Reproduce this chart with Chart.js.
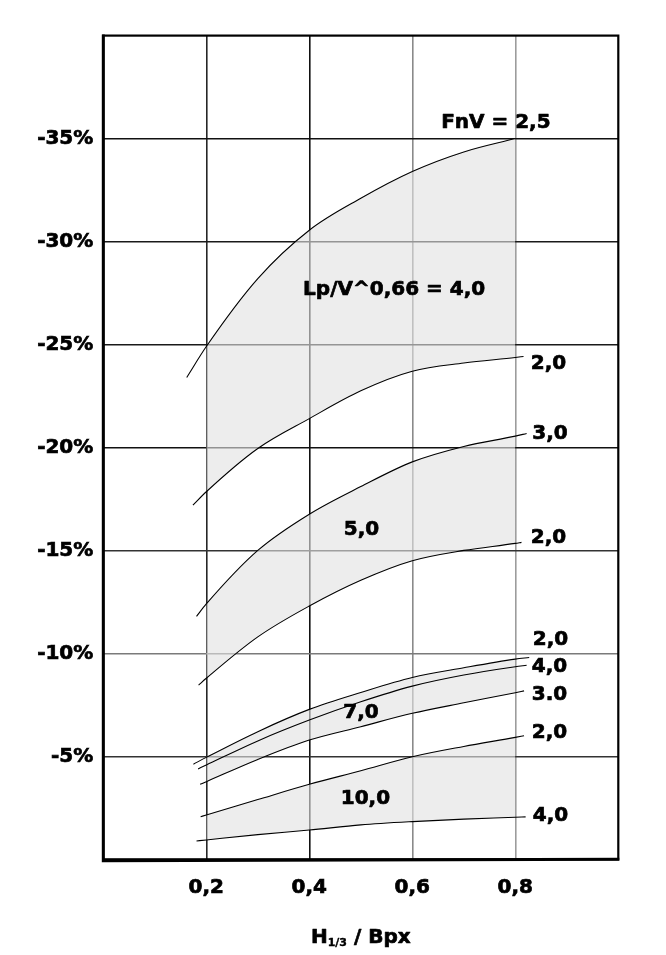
<!DOCTYPE html>
<html>
<head>
<meta charset="utf-8">
<script src="https://cdn.jsdelivr.net/npm/chart.js@4.4.1/dist/chart.umd.min.js"></script>
<style>
html,body{margin:0;padding:0;background:#fff;}
canvas{display:block;}
</style>
</head>
<body>
<canvas id="c" width="666" height="955"></canvas>
<script>
// ---- DATA: [H1/3/Bpx, resistance change %] ----
// Lp/V^0,66 = 4,0 band
const curveA = [[0.162,-23.4],[0.2,-24.9],[0.3,-28.2],[0.4,-30.55],[0.5,-32.1],[0.6,-33.4],[0.7,-34.35],[0.8,-35.0]];
const curveB = [[0.174,-17.2],[0.2,-17.85],[0.3,-19.95],[0.4,-21.4],[0.5,-22.75],[0.6,-23.7],[0.7,-24.1],[0.8,-24.37],[0.816,-24.42]];
// Lp/V^0,66 = 5,0 band
const curveC = [[0.181,-11.8],[0.2,-12.4],[0.3,-15.0],[0.4,-16.76],[0.5,-18.1],[0.6,-19.3],[0.7,-20.05],[0.8,-20.55],[0.822,-20.68]];
const curveD = [[0.185,-8.46],[0.2,-8.79],[0.3,-10.8],[0.4,-12.3],[0.5,-13.55],[0.6,-14.5],[0.7,-15.0],[0.8,-15.34],[0.812,-15.39]];
// Lp/V^0,66 = 7,0 band
const curveE = [[0.175,-4.62],[0.2,-4.95],[0.3,-6.2],[0.4,-7.28],[0.5,-8.1],[0.6,-8.83],[0.7,-9.3],[0.8,-9.72],[0.827,-9.8]];
const curveF = [[0.184,-4.39],[0.2,-4.58],[0.3,-5.75],[0.4,-6.76],[0.5,-7.65],[0.6,-8.41],[0.7,-8.95],[0.8,-9.35],[0.822,-9.42]];
const curveG = [[0.188,-3.64],[0.2,-3.77],[0.3,-4.85],[0.4,-5.79],[0.5,-6.44],[0.6,-7.09],[0.7,-7.6],[0.8,-8.09],[0.817,-8.18]];
// Lp/V^0,66 = 10,0 band
const curveH = [[0.189,-2.07],[0.2,-2.15],[0.3,-2.9],[0.4,-3.64],[0.5,-4.3],[0.6,-4.98],[0.7,-5.48],[0.8,-5.92],[0.817,-6.0]];
const curveI = [[0.181,-0.89],[0.2,-0.94],[0.3,-1.2],[0.4,-1.42],[0.5,-1.67],[0.6,-1.83],[0.7,-1.95],[0.8,-2.04],[0.82,-2.06]];

const xTickValues = [0.2, 0.4, 0.6, 0.8];
const yTickValues = [-35, -30, -25, -20, -15, -10, -5];

const endLabels  = ['2,0', '3,0', '2,0', '2,0', '4,0', '3.0', '2,0', '4,0'];
const bandLabels = ['Lp/V^0,66 = 4,0', '5,0', '7,0', '10,0'];
const headLabel  = 'FnV = 2,5';
const shadeRange = [0.2, 0.8];

// ---- build chart ----
const SHADE = 'rgba(226,226,226,0.62)';
const toXY = pts => pts.map(p => ({x: p[0], y: p[1]}));
const inWindow = pts => toXY(pts.filter(p => p[0] >= shadeRange[0] - 1e-9 && p[0] <= shadeRange[1] + 1e-9));

const bands = [[curveA, curveB], [curveC, curveD], [curveE, curveG], [curveH, curveI]];
const curves = [curveA, curveB, curveC, curveD, curveE, curveF, curveG, curveH, curveI];

const datasets = [];
bands.forEach(([up, low]) => {
  datasets.push({data: inWindow(up), fill: '+1', backgroundColor: SHADE, borderColor: 'rgba(0,0,0,0)', borderWidth: 0, pointRadius: 0, order: 2, cubicInterpolationMode: 'monotone'});
  datasets.push({data: inWindow(low), fill: false, borderColor: 'rgba(0,0,0,0)', borderWidth: 0, pointRadius: 0, order: 2, cubicInterpolationMode: 'monotone'});
});
curves.forEach(c => datasets.push({data: toXY(c), fill: false, borderColor: '#000', borderWidth: 1.1, pointRadius: 0, order: 0, cubicInterpolationMode: 'monotone'}));

// annotations anchored in data coordinates (left edge, text baseline)
const endAnchors = [[0.830,-23.83],[0.833,-20.39],[0.830,-15.37],[0.834,-10.4],[0.832,-9.1],[0.832,-7.73],[0.832,-5.87],[0.834,-1.87]];
const bandAnchors = [[0.388,-27.4],[0.467,-15.74],[0.466,-6.84],[0.461,-2.67]];
const headAnchor = [0.656,-35.5];

const FONT = '"DejaVu Sans", "Liberation Sans", sans-serif';

function boldText(ctx, t, x, y) {
  ctx.strokeText(t, x, y);
  ctx.fillText(t, x, y);
}

const labelPlugin = {
  id: 'curveLabels',
  afterDatasetsDraw(chart) {
    const {ctx, scales: {x, y}} = chart;
    ctx.save();
    ctx.font = 'bold 20px ' + FONT;
    ctx.fillStyle = '#000';
    ctx.strokeStyle = '#000';
    ctx.lineWidth = 0.7;
    ctx.lineJoin = 'round';
    ctx.textAlign = 'left';
    ctx.textBaseline = 'alphabetic';
    const put = (t, a) => boldText(ctx, t, x.getPixelForValue(a[0]), y.getPixelForValue(a[1]));
    endLabels.forEach((t, i) => put(t, endAnchors[i]));
    bandLabels.forEach((t, i) => put(t, bandAnchors[i]));
    put(headLabel, headAnchor);
    ctx.restore();
  }
};

const framePlugin = {
  id: 'frameAndTitle',
  afterDraw(chart) {
    const {ctx, chartArea: a} = chart;
    ctx.save();
    ctx.strokeStyle = '#000';
    ctx.lineWidth = 2.2;
    ctx.strokeRect(a.left, a.top, a.right - a.left, a.bottom - a.top);
    ctx.lineWidth = 3;
    ctx.beginPath();
    ctx.moveTo(a.left, a.top - 1); ctx.lineTo(a.left, a.bottom + 1.5);
    ctx.lineTo(a.right + 1, a.bottom);
    ctx.stroke();
    // x axis title: H1/3 / Bpx
    const big = 'bold 20px ' + FONT, small = 'bold 11px ' + FONT;
    const p1 = 'H', p2 = '1/3', p3 = ' / Bpx';
    ctx.font = big; const w1 = ctx.measureText(p1).width, w3 = ctx.measureText(p3).width;
    ctx.font = small; const w2 = ctx.measureText(p2).width;
    const total = w1 + w2 + w3;
    let cx = (a.left + a.right) / 2 - total / 2;
    const base = 943;
    ctx.fillStyle = '#000';
    ctx.lineWidth = 0.7;
    ctx.lineJoin = 'round';
    ctx.textBaseline = 'alphabetic';
    ctx.textAlign = 'left';
    ctx.font = big; boldText(ctx, p1, cx, base); cx += w1;
    ctx.font = small; ctx.lineWidth = 0.4; boldText(ctx, p2, cx, base + 3); cx += w2;
    ctx.font = big; ctx.lineWidth = 0.7; boldText(ctx, p3, cx, base);
    ctx.restore();
  }
};

const xGridColor = v => ({0.2: '#262626', 0.4: '#111', 0.6: '#8a8a8a', 0.8: '#9c9c9c'})[Math.round(v * 10) / 10] || 'rgba(0,0,0,0)';
const yGridColor = v => ({'-35': '#111', '-30': '#1a1a1a', '-25': '#1a1a1a', '-20': '#111', '-15': '#333', '-10': '#7a7a7a', '-5': '#333'})[String(Math.round(v))] || 'rgba(0,0,0,0)';

new Chart(document.getElementById('c'), {
  type: 'line',
  data: {datasets},
  options: {
    responsive: false,
    animation: false,
    devicePixelRatio: 1,
    layout: {padding: {left: 0, right: 47.7, top: 35.6, bottom: 0}},
    plugins: {legend: {display: false}, tooltip: {enabled: false}, title: {display: false}},
    elements: {line: {tension: 0}},
    scales: {
      x: {
        type: 'linear', min: 0, max: 1,
        afterBuildTicks: s => { s.ticks = xTickValues.map(v => ({value: v})); },
        afterFit: s => { s.height = 955 - 859.3; },
        ticks: {
          callback: v => v.toFixed(1).replace('.', ','),
          font: {family: FONT, size: 20, weight: 'bold'},
          color: '#000', padding: 16, maxRotation: 0, autoSkip: false,
          textStrokeColor: '#000', textStrokeWidth: 0.7
        },
        grid: {drawTicks: false, color: c => xGridColor(c.tick ? c.tick.value : -1), lineWidth: 1.6},
        border: {display: false}
      },
      y: {
        type: 'linear', min: -40, max: 0, reverse: true,
        afterBuildTicks: s => { s.ticks = yTickValues.map(v => ({value: v})); },
        afterFit: s => { s.width = 103.3; },
        ticks: {
          callback: v => v + '%',
          font: {family: FONT, size: 20, weight: 'bold'},
          color: '#000', padding: 10, autoSkip: false,
          textStrokeColor: '#000', textStrokeWidth: 0.7
        },
        grid: {drawTicks: false, color: c => yGridColor(c.tick ? c.tick.value : 99), lineWidth: 1.5},
        border: {display: false}
      }
    }
  },
  plugins: [labelPlugin, framePlugin]
});
</script>
</body>
</html>
